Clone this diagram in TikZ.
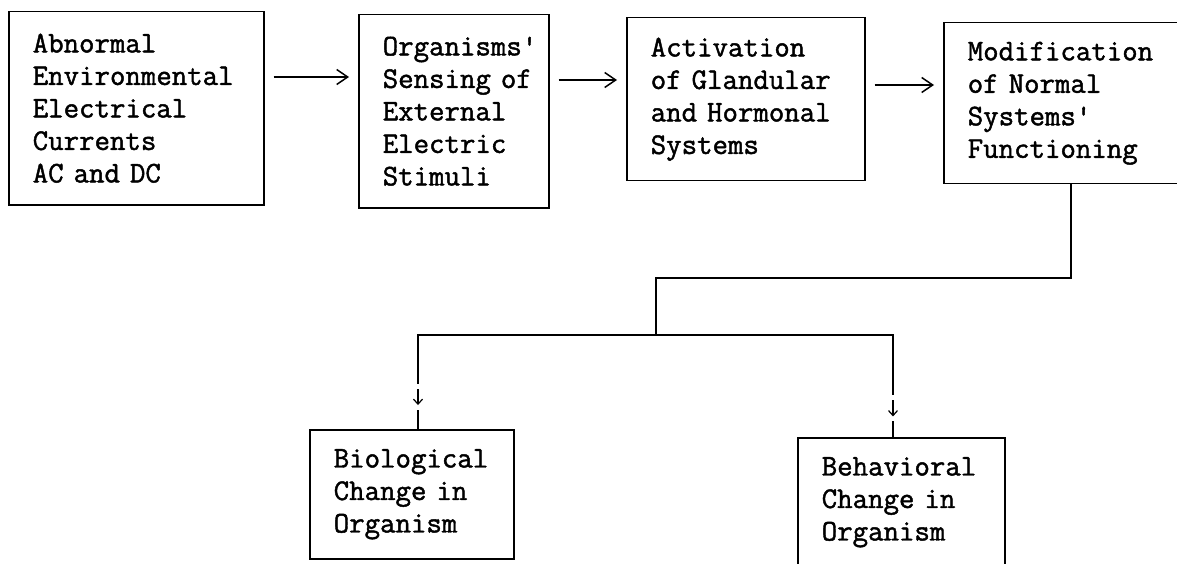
\documentclass[tikz,border=0pt]{standalone}
\usepackage{fontspec}
\newfontfamily\boxfont{Latin Modern Mono}[FakeBold=1.5]
\usetikzlibrary{arrows.meta}
\hyphenpenalty=10000
\tikzset{
    box/.style={rectangle,draw,line width=1.5pt,anchor=north west,align=left,inner xsep=24pt,
        font=\boxfont\fontsize{30}{32.5}\selectfont},
    directed/.style={line width=1.5pt,arrows={-Straight Barb[length=11pt,width=15pt]},
        shorten <=9pt,shorten >=9pt},
    link/.style={line width=1.5pt},
    downtick/.style={line width=1.2pt,arrows={-Straight Barb[length=5pt,width=9pt]}},
    }

\begin{document}
\begin{tikzpicture}[x=1pt,y=-1pt]
	\useasboundingbox (0,0) rectangle (1177,564);
	\clip (0,0) rectangle (1177,564);
		\node[box,text width=207pt,minimum height=193pt] (a) at (8,11) {Abnormal\\Environmental\\Electrical\\Currents\\AC~and~DC};
		\node[box,text width=142pt,minimum height=193pt] (b) at (358,14) {Organisms'\\Sensing~of\\External\\Electric\\Stimuli};
		\node[box,text width=190pt,minimum height=163pt] (c) at (626,17) {Activation\\of~Glandular\\and~Hormonal\\Systems};
		\node[box,text width=212pt,minimum height=161pt] (d) at (943,22) {Modification\\of~Normal\\Systems'\\Functioning};
		\node[box,text width=156pt,minimum height=129pt] (e) at (309,429) {Biological\\Change~in\\Organism};
		\node[box,text width=159pt,minimum height=129pt] (f) at (797,437) {Behavioral\\Change~in\\Organism};
		\coordinate (split) at (656,278);
		\coordinate (fork) at (656,335);

	\draw[directed] (a.east |- 0,77) to (b.west |- 0,77);
	\draw[directed] (b.east |- 0,80) to (c.west |- 0,80);
	\draw[directed] (c.east |- 0,85) to (d.west |- 0,85);

	\draw[link] (d.south -| 1071,0) |- (split) -- (fork);
	\draw[link] (fork) -| coordinate[pos=0.83] (g1) (e.north -| 418,0);
	\draw[link] (fork) -| coordinate[pos=0.86] (g2) (f.north -| 893,0);
	\foreach \g in {g1,g2} {
		\fill[white] ([xshift=-5pt,yshift=-13pt]\g) rectangle ([xshift=5pt,yshift=13pt]\g);
		\draw[downtick] ([yshift=8pt]\g) -- ([yshift=-8pt]\g);
	}
    \end{tikzpicture}
\end{document}
